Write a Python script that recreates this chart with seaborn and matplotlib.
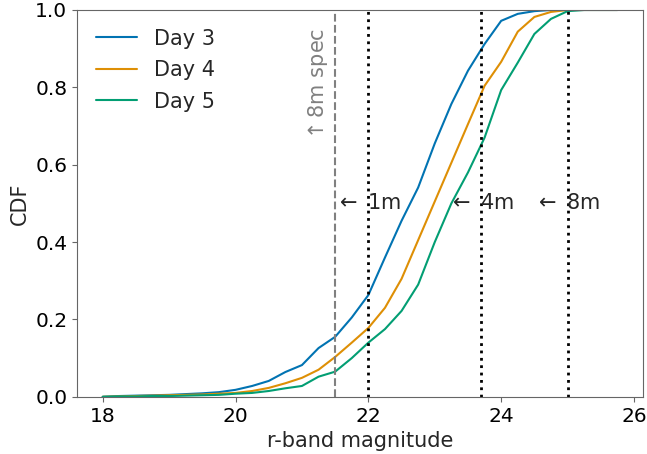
import matplotlib
matplotlib.use("Agg")
import matplotlib.pyplot as plt
from matplotlib.ticker import MultipleLocator
import pandas as pd
import seaborn as sns

# r-band magnitude grid and CDF values
mags = [18.0, 18.25, 18.5, 18.75, 19.0, 19.25, 19.5, 19.75, 20.0, 20.25, 20.5,
        20.75, 21.0, 21.25, 21.5, 21.75, 22.0, 22.25, 22.5, 22.75, 23.0, 23.25,
        23.5, 23.75, 24.0, 24.25, 24.5, 24.75, 25.0, 25.25, 25.5, 25.75]
day3 = [0.0, 0.002, 0.003, 0.004, 0.005, 0.007, 0.009, 0.012, 0.018, 0.028, 0.041,
        0.064, 0.082, 0.126, 0.155, 0.205, 0.263, 0.36, 0.455, 0.541, 0.655, 0.757,
        0.843, 0.912, 0.972, 0.99, 0.997, 1.0, 1.0, 1.0, 1.0, 1.0]
day4 = [0.0, 0.001, 0.002, 0.003, 0.004, 0.005, 0.006, 0.008, 0.010, 0.015, 0.023,
        0.035, 0.049, 0.070, 0.103, 0.140, 0.178, 0.23, 0.305, 0.405, 0.505, 0.605,
        0.705, 0.804, 0.866, 0.944, 0.982, 0.995, 1.0, 1.0, 1.0, 1.0]
day5 = [0.0, 0.001, 0.001, 0.002, 0.002, 0.003, 0.004, 0.005, 0.008, 0.010, 0.015,
        0.022, 0.028, 0.052, 0.065, 0.100, 0.140, 0.175, 0.222, 0.290, 0.400, 0.500,
        0.580, 0.670, 0.793, 0.864, 0.938, 0.977, 0.997, 1.0, 1.0, 1.0]
labels = ["Day 3", "Day 4", "Day 5"]

spec_limit = 21.5
mirror_limits = [22.0, 23.7, 25.0]
mirror_names = ["1m", "4m", "8m"]

df = pd.concat([pd.DataFrame({"mag": mags, "cdf": v, "day": lab})
                for v, lab in zip([day3, day4, day5], labels)])

sns.set_style("ticks", {"axes.edgecolor": "#666666", "xtick.color": "#666666",
                        "ytick.color": "#666666"})
plt.rcParams["font.family"] = ["DejaVu Sans"]
plt.rcParams["xtick.labelcolor"] = "black"
plt.rcParams["ytick.labelcolor"] = "black"

fs = 15

fig, ax = plt.subplots(figsize=(6.47, 4.54), dpi=100)
sns.lineplot(data=df, x="mag", y="cdf", hue="day", palette="colorblind",
             linewidth=1.5, ax=ax)

ax.axvline(spec_limit, color="gray", linestyle="--", linewidth=1.5)
ax.text(spec_limit - 0.26, 0.655, r"$\uparrow$8m spec", rotation=90, color="gray",
        fontsize=fs, ha="center", va="bottom")
for x, name in zip(mirror_limits, mirror_names):
    ax.axvline(x, color="black", linestyle=":", linewidth=2)
    ax.text(x - 0.5, 0.5, r"$\leftarrow$ " + name, fontsize=fs,
            ha="left", va="center")

ax.set_ylim(0, 1)
ax.xaxis.set_major_locator(MultipleLocator(2))
ax.set_xlabel("r-band magnitude", fontsize=fs)
ax.set_ylabel("CDF", fontsize=fs)
ax.tick_params(labelsize=14.5)
ax.legend(title=None, frameon=False, fontsize=fs, loc="upper left",
          labelspacing=0.55)

plt.subplots_adjust(left=0.119, right=0.994, top=0.978, bottom=0.126)
fig.savefig("out.png", dpi=100)
